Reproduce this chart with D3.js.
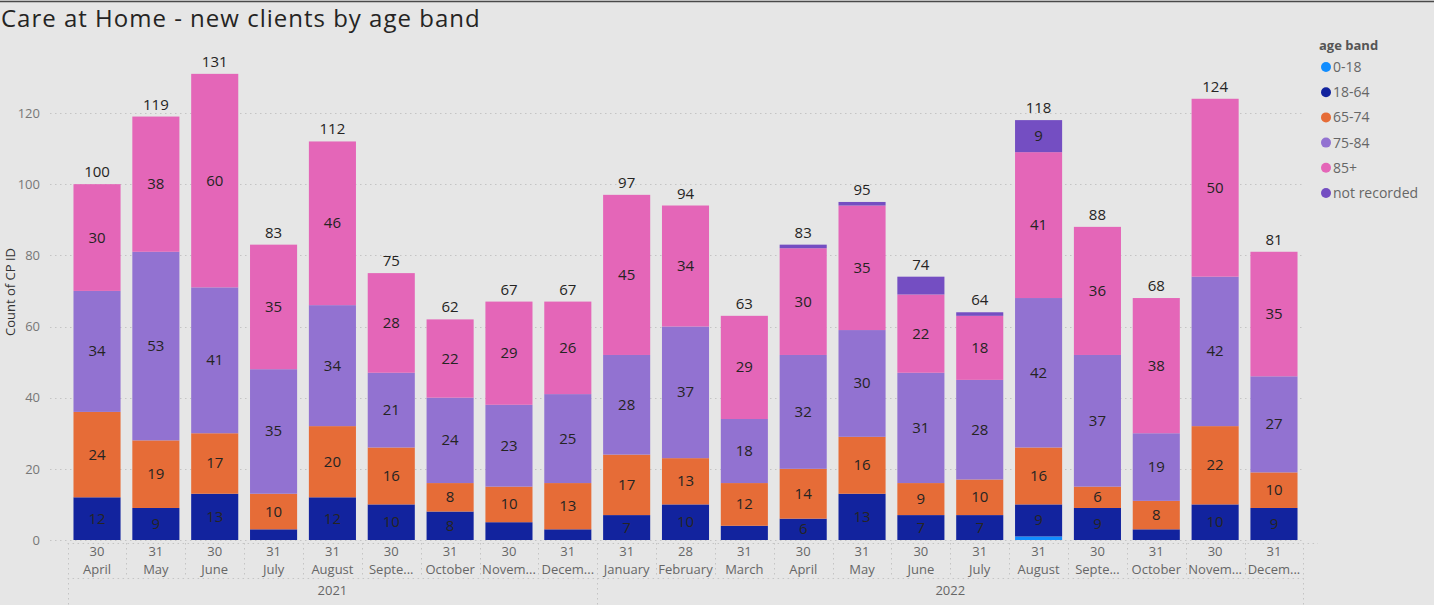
<!DOCTYPE html>
<html>
<head>
<meta charset="utf-8">
<script src="https://cdn.jsdelivr.net/npm/d3@7"></script>
<style>
  html, body { margin: 0; padding: 0; background: #e6e6e6; }
  svg { display: block; font-family: "Open Sans", "Noto Sans", sans-serif; }
</style>
</head>
<body>
<svg id="chart" width="1434" height="605"></svg>
<script>
// Month-end categories
const years  = ["2021","2021","2021","2021","2021","2021","2021","2021","2021",
                "2022","2022","2022","2022","2022","2022","2022","2022","2022","2022","2022","2022"];
const months = ["April","May","June","July","August","September","October","November","December",
                "January","February","March","April","May","June","July","August","September","October","November","December"];
const days   = [30,31,30,31,31,30,31,30,31, 31,28,31,30,31,30,31,31,30,31,30,31];

// New clients per age band
const age0to18    = [0,0,0,0,0,0,0,0,0, 0,0,0,0,0,0,0,1,0,0,0,0];
const age18to64   = [12,9,13,3,12,10,8,5,3, 7,10,4,6,13,7,7,9,9,3,10,9];
const age65to74   = [24,19,17,10,20,16,8,10,13, 17,13,12,14,16,9,10,16,6,8,22,10];
const age75to84   = [34,53,41,35,34,21,24,23,25, 28,37,18,32,30,31,28,42,37,19,42,27];
const age85plus   = [30,38,60,35,46,28,22,29,26, 45,34,29,30,35,22,18,41,36,38,50,35];
const notRecorded = [0,0,0,0,0,0,0,0,0, 0,0,0,1,1,5,1,9,0,0,0,0];

const bands  = ["0-18","18-64","65-74","75-84","85+","not recorded"];
const series = [age0to18, age18to64, age65to74, age75to84, age85plus, notRecorded];
const colors = ["#118DFF","#12239E","#E66C37","#9272D1","#E466B8","#744EC2"];
const yTicks = [0,20,40,60,80,100,120];

const rows = months.map((m, i) => {
  const r = { idx: i, month: m, day: days[i], year: years[i] };
  bands.forEach((b, k) => r[b] = series[k][i]);
  r.total = d3.sum(series, s => s[i]);
  return r;
});

const svg = d3.select("#chart");
const W = 1434, H = 605;

svg.append("rect").attr("width", W).attr("height", H).attr("fill", "#e6e6e6");
svg.append("line").attr("x1", 0).attr("x2", W).attr("y1", 1.5).attr("y2", 1.5)
   .attr("stroke", "#4a4a4a").attr("stroke-width", 1.5);

// Title
svg.append("text").attr("x", 1).attr("y", 27)
   .attr("font-size", 24).attr("fill", "#252423")
   .style("letter-spacing", "1px")
   .text("Care at Home - new clients by age band");

const x = d3.scaleBand().domain(rows.map(r => r.idx))
  .range([67.6, 1303.4]).paddingInner(0.2).paddingOuter(0.1);
const y = d3.scaleLinear().domain([0, 120]).range([540, 113]);

// Gridlines
const grid = svg.append("g");
grid.selectAll("line").data(yTicks).join("line")
  .attr("x1", 50).attr("x2", 1305)
  .attr("y1", d => Math.round(y(d)) + 0.5).attr("y2", d => Math.round(y(d)) + 0.5)
  .attr("stroke", "#c4c4c4").attr("stroke-dasharray", "1.5,3.5");

// Y axis labels
const yAxis = svg.append("g").attr("transform", "translate(40,0)")
  .call(d3.axisLeft(y).tickValues(yTicks).tickSize(0).tickPadding(0));
yAxis.select(".domain").remove();
yAxis.selectAll("text").attr("font-size", 13).attr("fill", "#777")
  .attr("font-family", "\"Open Sans\", sans-serif");

svg.append("text")
  .attr("transform", "translate(15,292) rotate(-90)")
  .attr("text-anchor", "middle").attr("font-size", 13).attr("fill", "#333")
  .text("Count of CP ID");

// Stacked bars
const stack = d3.stack().keys(bands)(rows);
const layers = svg.append("g").selectAll("g").data(stack).join("g")
  .attr("fill", (d, i) => colors[i]);
layers.selectAll("rect").data(d => d.filter(p => p[1] > p[0])).join("rect")
  .attr("x", p => x(p.data.idx))
  .attr("width", x.bandwidth())
  .attr("y", p => y(p[1]))
  .attr("height", p => y(p[0]) - y(p[1]));

// Segment value labels
const segLabels = svg.append("g").attr("font-size", 15).attr("fill", "#252423")
  .attr("text-anchor", "middle");
stack.forEach(layer => {
  layer.forEach(p => {
    const v = p[1] - p[0];
    if (v >= 6) {
      segLabels.append("text")
        .attr("x", x(p.data.idx) + x.bandwidth() / 2)
        .attr("y", (y(p[0]) + y(p[1])) / 2 + 5)
        .text(v);
    }
  });
});

// Totals
svg.append("g").attr("font-size", 15).attr("fill", "#252423").attr("text-anchor", "middle")
  .selectAll("text").data(rows).join("text")
  .attr("x", r => x(r.idx) + x.bandwidth() / 2)
  .attr("y", r => y(r.total) - 7)
  .text(r => r.total);

// Hierarchical x axis
const axisG = svg.append("g").attr("stroke", "#c4c4c4").attr("stroke-dasharray", "1.5,3.5");
const step = x.step();
const left = x.range()[0];
const edges = d3.range(rows.length + 1).map(i => left + i * step);
axisG.append("line").attr("x1", left).attr("x2", 1318).attr("y1", 543.5).attr("y2", 543.5);
axisG.append("line").attr("x1", left).attr("x2", edges[edges.length - 1]).attr("y1", 578.5).attr("y2", 578.5);
edges.forEach((e, i) => {
  const groupEdge = i === 0 || i === rows.length || years[i] !== years[i - 1];
  axisG.append("line").attr("x1", Math.round(e) + 0.5).attr("x2", Math.round(e) + 0.5)
    .attr("y1", 543).attr("y2", groupEdge ? 605 : 578);
});

const labelG = svg.append("g").attr("font-size", 13).attr("fill", "#666").attr("text-anchor", "middle");
// Shorten a label with an ellipsis when it does not fit its band
function fitText(sel, maxW, cutW) {
  sel.each(function() {
    const t = d3.select(this);
    const full = t.text();
    if (this.getComputedTextLength() <= maxW) return;
    let n = full.length;
    while (n > 1) {
      t.text(full.slice(0, n) + "...");
      if (this.getComputedTextLength() <= cutW) break;
      n--;
    }
  });
}
labelG.selectAll("text.day").data(rows).join("text").attr("class", "day")
  .attr("x", r => x(r.idx) + x.bandwidth() / 2).attr("y", 556).text(r => r.day);
labelG.selectAll("text.month").data(rows).join("text").attr("class", "month")
  .attr("x", r => x(r.idx) + x.bandwidth() / 2).attr("y", 574).text(r => r.month)
  .call(fitText, step - 2, 54);

const yearGroups = d3.groups(rows, r => r.year);
labelG.selectAll("text.year").data(yearGroups).join("text").attr("class", "year")
  .attr("x", g => (x(g[1][0].idx) + x(g[1][g[1].length - 1].idx) + x.bandwidth()) / 2)
  .attr("y", 595).text(g => g[0]);

// Legend
const legend = svg.append("g").attr("transform", "translate(1319,0)");
legend.append("text").attr("x", 0).attr("y", 50).attr("font-size", 13)
  .attr("font-weight", "bold").attr("fill", "#555").text("age band");
const items = legend.selectAll("g.item").data(bands).join("g").attr("class", "item")
  .attr("transform", (d, i) => `translate(0,${67 + i * 25.2})`);
items.append("circle").attr("cx", 7).attr("cy", 0).attr("r", 5).attr("fill", (d, i) => colors[i]);
items.append("text").attr("x", 14).attr("y", 5).attr("font-size", 14).attr("fill", "#666").text(d => d);
</script>
</body>
</html>
